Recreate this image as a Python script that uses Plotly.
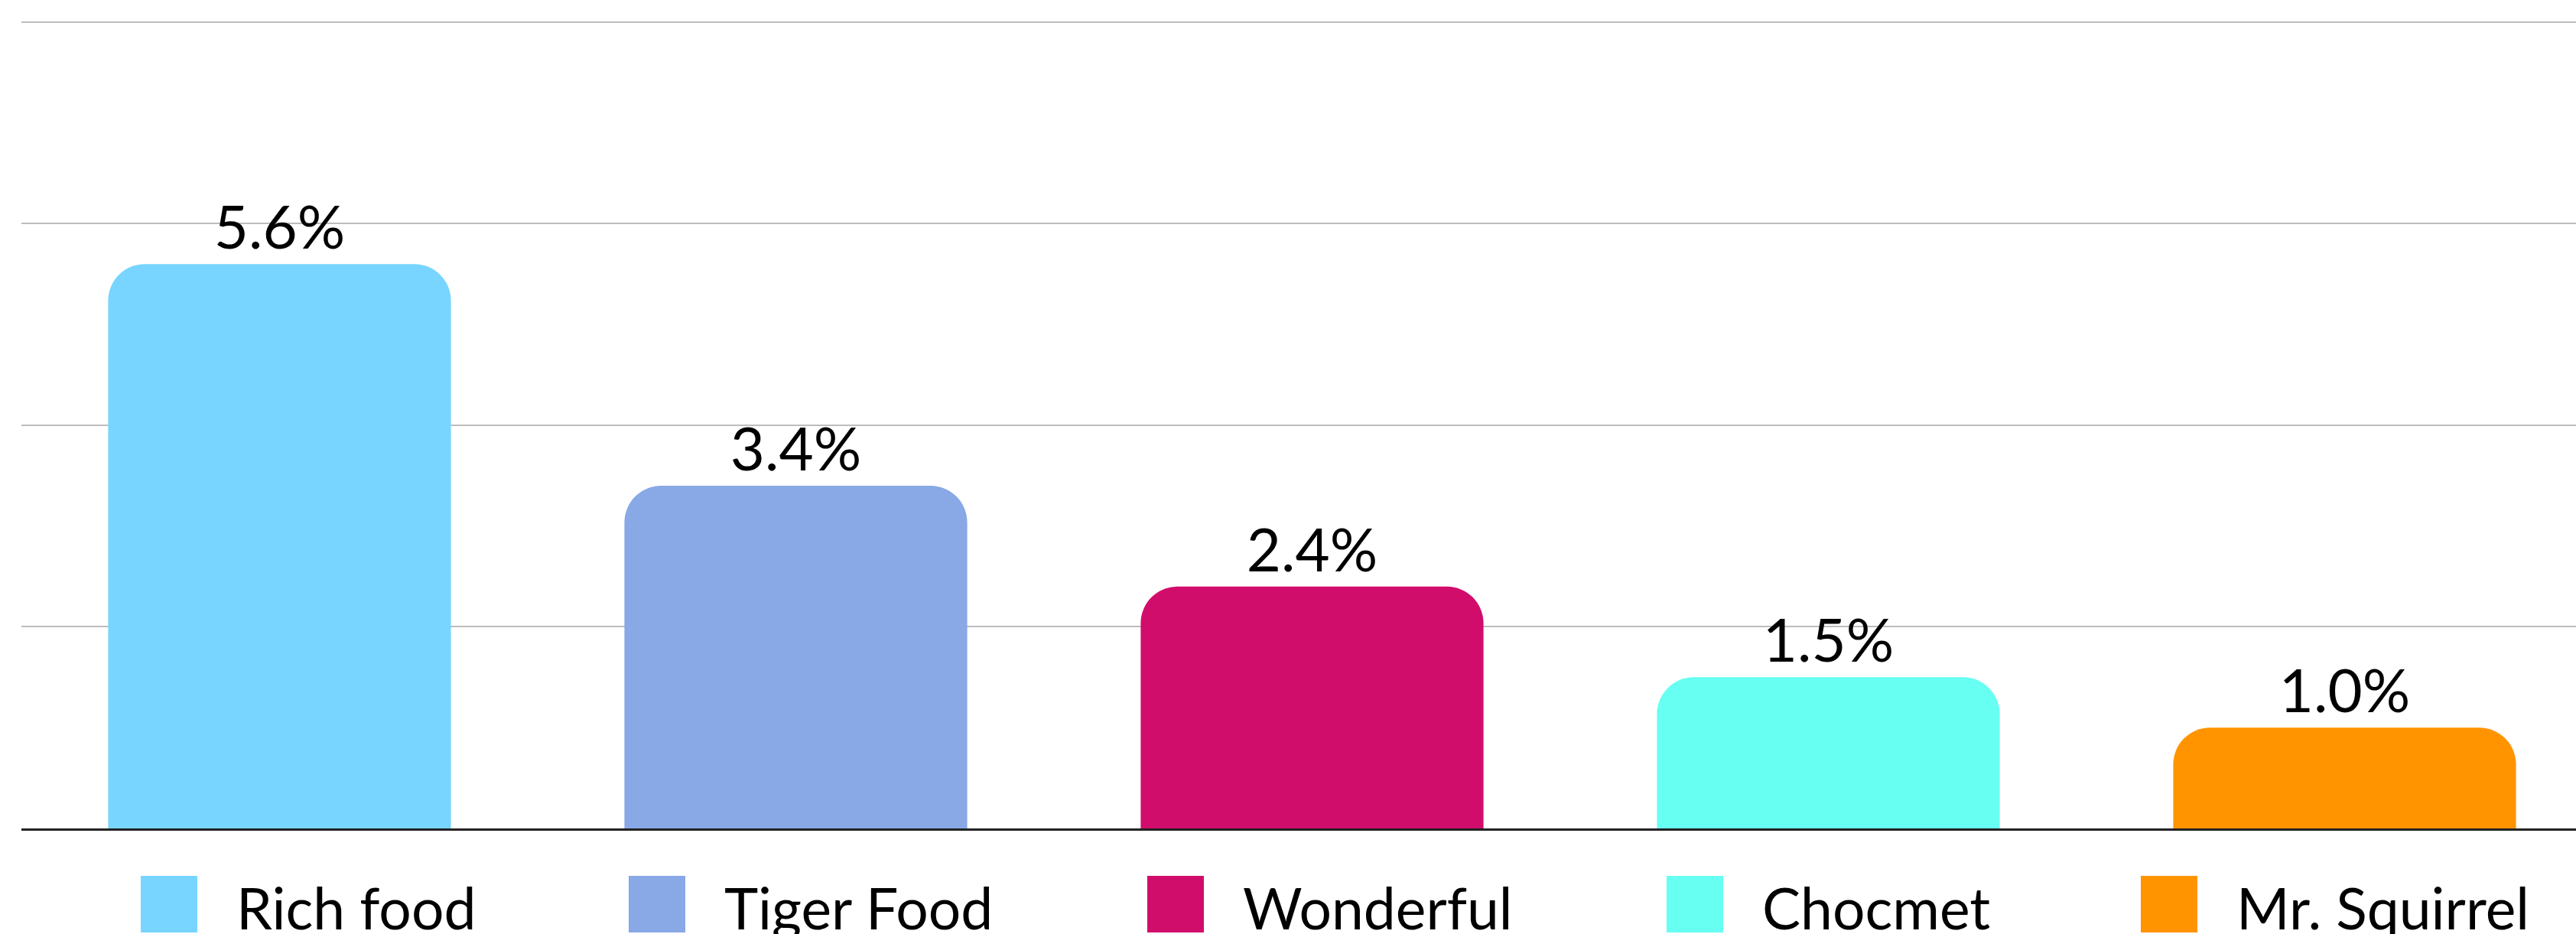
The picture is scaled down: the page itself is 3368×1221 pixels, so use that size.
import plotly.graph_objects as go

# Brand share values (percent)
brands = ["Rich food", "Tiger Food", "Wonderful", "Chocmet", "Mr. Squirrel"]
shares = [5.6, 3.4, 2.4, 1.5, 1.0]
colors = ["#77D5FF", "#88A8E6", "#D10D6C", "#66FFF2", "#FF9400"]

W, H = 3368, 1221
ML, MT, MB = 28, 27, 138
plot_w = W - ML
plot_h = H - MT - MB
cat_px = 675  # pixel width of one category slot
y_top = 8.015  # a hair above the last gridline so it is still drawn

FONT = "Lato, 'Open Sans', sans-serif"

fig = go.Figure(
    go.Bar(
        x=brands,
        y=shares,
        marker=dict(color=colors, cornerradius=48, line=dict(width=0)),
        texttemplate="%{y:.1f}%",
        textposition="outside",
        textfont=dict(size=78, color="#000000", family=FONT),
        cliponaxis=False,
        showlegend=False,
    )
)

# Custom legend row beneath the axis: swatch + label per brand
legend_left = [184, 822, 1500, 2179, 2799]
swatch = 74
label_gap = 123
legend_top = 1145
legend_mid = 1186

def px_x(px):
    return (px - ML) / plot_w

def px_y(py):
    return (H - MB - py) / plot_h

for name, col, lx in zip(brands, colors, legend_left):
    fig.add_shape(
        type="rect", xref="paper", yref="paper",
        x0=px_x(lx), x1=px_x(lx + swatch),
        y0=px_y(legend_top + swatch), y1=px_y(legend_top),
        fillcolor=col, line=dict(width=0), layer="above",
    )
    fig.add_annotation(
        xref="paper", yref="paper",
        x=px_x(lx + label_gap), y=px_y(legend_mid),
        xanchor="left", yanchor="middle",
        text=name, showarrow=False,
        font=dict(size=75, color="#000000", family=FONT),
    )

fig.update_layout(
    width=W, height=H,
    margin=dict(l=ML, r=0, t=MT, b=MB, pad=0),
    paper_bgcolor="white",
    plot_bgcolor="white",
    bargap=0.336,
    font=dict(family=FONT),
    xaxis=dict(
        range=[-0.5, plot_w / cat_px - 0.5],
        showticklabels=False,
        ticks="",
        showgrid=False,
        zeroline=False,
        showline=True,
        linecolor="#222222",
        linewidth=3,
        fixedrange=True,
    ),
    yaxis=dict(
        range=[0, y_top],
        tick0=0,
        dtick=2,
        showticklabels=False,
        ticks="",
        showgrid=True,
        gridcolor="#BDBDBD",
        gridwidth=2,
        zeroline=False,
        showline=False,
        fixedrange=True,
    ),
)

fig.write_html("out.html")
